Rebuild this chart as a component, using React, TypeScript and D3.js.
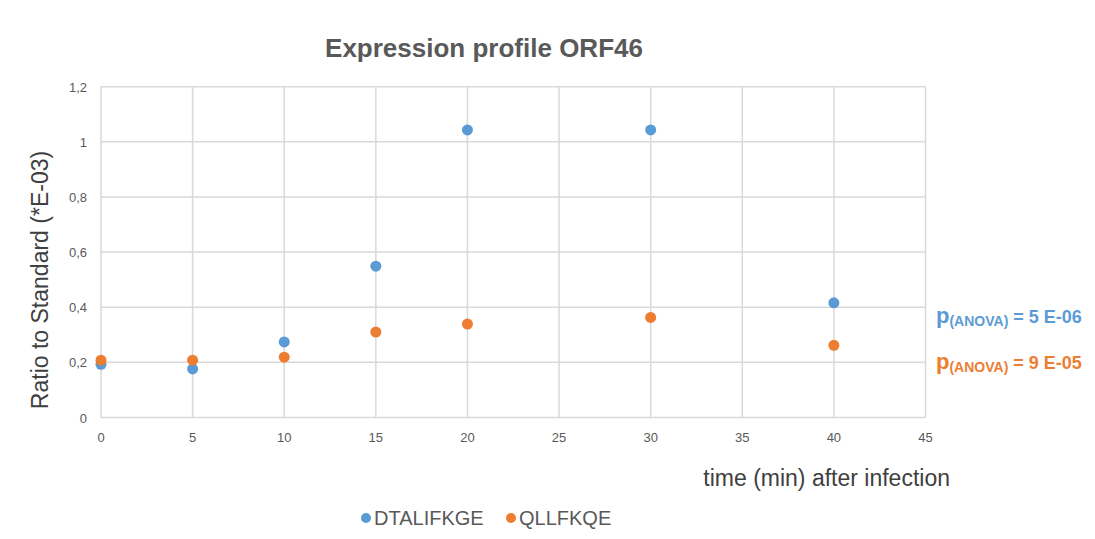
import React from "react";
import * as d3 from "d3";

const times = [0, 5, 10, 15, 20, 30, 40];
const dtalifkge = [0.193, 0.176, 0.274, 0.549, 1.043, 1.043, 0.416];
const qllfkqe = [0.208, 0.208, 0.219, 0.31, 0.339, 0.363, 0.262];
const xTicks = [0, 5, 10, 15, 20, 25, 30, 35, 40, 45];
const yTicks = [0, 0.2, 0.4, 0.6, 0.8, 1, 1.2];
const seriesNames = ["DTALIFKGE", "QLLFKQE"];
const pValues = ["5 E-06", "9 E-05"];

const BLUE = "#5B9BD5";
const ORANGE = "#ED7D31";

export default function App() {
  const W = 1095, H = 539;
  const x = d3.scaleLinear().domain([0, 45]).range([101, 925.5]);
  const y = d3.scaleLinear().domain([0, 1.2]).range([417.5, 86.7]);
  const fmt = (v: number) => String(+v.toFixed(1)).replace(".", ",");
  const series = [
    { name: seriesNames[0], values: dtalifkge, color: BLUE },
    { name: seriesNames[1], values: qllfkqe, color: ORANGE },
  ];
  const font = "'Liberation Sans', Arial, sans-serif";
  return (
    <svg width={W} height={H} style={{ position: "absolute", left: 0, top: 0, background: "#fff" }} fontFamily={font}>
      <rect width={W} height={H} fill="#fff" />
      <text x={484} y={57} textAnchor="middle" fontSize={26} fontWeight="bold" fill="#595959">
        Expression profile ORF46
      </text>
      {yTicks.map((t) => (
        <line key={"gy" + t} x1={x(0)} x2={x(45)} y1={y(t)} y2={y(t)} stroke="#d9d9d9" strokeWidth={1.5} />
      ))}
      {xTicks.map((t) => (
        <line key={"gx" + t} x1={x(t)} x2={x(t)} y1={y(0)} y2={y(1.2)} stroke="#d9d9d9" strokeWidth={1.5} />
      ))}
      {yTicks.map((t) => (
        <text key={"ty" + t} x={87} y={y(t) + 5} textAnchor="end" fontSize={13} fill="#595959">
          {fmt(t)}
        </text>
      ))}
      {xTicks.map((t) => (
        <text key={"tx" + t} x={x(t)} y={442} textAnchor="middle" fontSize={13} fill="#595959">
          {t}
        </text>
      ))}
      <text transform={`translate(48,280) rotate(-90)`} textAnchor="middle" fontSize={23} fill="#404040">
        Ratio to Standard (*E-03)
      </text>
      <text x={950} y={486} textAnchor="end" fontSize={23} fill="#404040">
        time (min) after infection
      </text>
      {series.map((s) =>
        s.values.map((v, i) => (
          <circle key={s.name + i} cx={x(times[i])} cy={y(v)} r={5.5} fill={s.color} />
        ))
      )}
      {series.map((s, k) => (
        <text key={"p" + k} x={936} y={k === 0 ? 323 : 369} fontWeight="bold" fill={s.color}>
          <tspan fontSize={22}>p</tspan>
          <tspan fontSize={14} dy={3}>(ANOVA)</tspan>
          <tspan fontSize={18} dy={-3}> = {pValues[k]}</tspan>
        </text>
      ))}
      {series.map((s, k) => (
        <g key={"lg" + k} transform={`translate(${k === 0 ? 366 : 511},519)`}>
          <circle cx={0} cy={-1} r={5} fill={s.color} />
          <text x={8} y={6} fontSize={20} fill="#595959">{s.name}</text>
        </g>
      ))}
    </svg>
  );
}
